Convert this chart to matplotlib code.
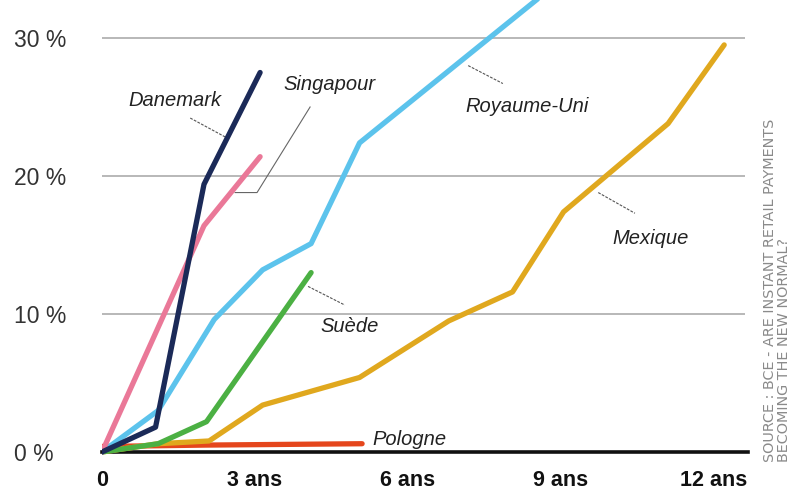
import matplotlib
matplotlib.use('Agg')
import matplotlib.pyplot as plt

# données (années, part en %)
danemark_t = [0, 1.05, 2.0, 3.1]
danemark_v = [0, 1.8, 19.4, 27.5]

singapour_t = [0, 1.0, 2.0, 3.1]
singapour_v = [0, 8.2, 16.4, 21.4]

royaume_uni_t = [0, 1.1, 2.2, 3.15, 4.1, 5.05, 9.0]
royaume_uni_v = [0, 3.0, 9.6, 13.2, 15.1, 22.4, 34.2]

suede_t = [0, 1.1, 2.05, 4.1]
suede_v = [0, 0.6, 2.2, 13.0]

mexique_t = [0, 1.1, 2.1, 3.15, 5.05, 6.8, 8.05, 9.05, 11.1, 12.2]
mexique_v = [0, 0.6, 0.8, 3.4, 5.4, 9.5, 11.6, 17.4, 23.8, 29.5]

pologne_t = [0, 2.0, 5.1]
pologne_v = [0.4, 0.5, 0.6]

x_ticks = [0, 3, 6, 9, 12]
x_labels = ['0', '3 ans', '6 ans', '9 ans', '12 ans']
y_ticks = [0, 10, 20, 30]
y_labels = ['0 %', '10 %', '20 %', '30 %']

SANS = ['Liberation Sans', 'DejaVu Sans']

fig = plt.figure(figsize=(7.95, 4.91), dpi=100)
# axe : 0 an a x=102px, 51 px par an ; 0 % a y=452px, 13.8 px par point
ax = fig.add_axes([102 / 795, (491 - 458) / 491, (745 - 102) / 795, 458 / 491])
ax.set_xlim(0, (745 - 102) / 51)
ax.set_ylim(-6 / 13.8, 452 / 13.8)

for s in ax.spines.values():
    s.set_visible(False)

for v in y_ticks[1:]:
    ax.axhline(v, color='#b8b8b8', lw=1.4, zorder=1)
ax.axhline(0, xmax=1.005, color='#111111', lw=2.6, zorder=1, clip_on=False)

lw = 3.8
ax.plot(pologne_t, pologne_v, color='#e5461c', lw=lw, solid_capstyle='round', zorder=3)
ax.plot(mexique_t, mexique_v, color='#e0a81e', lw=lw, solid_capstyle='round', zorder=3)
ax.plot(suede_t, suede_v, color='#4bb043', lw=lw, solid_capstyle='round', zorder=3)
ax.plot(royaume_uni_t, royaume_uni_v, color='#5cc3ec', lw=lw, solid_capstyle='round', zorder=3)
ax.plot(singapour_t, singapour_v, color='#ea7898', lw=lw, solid_capstyle='round', zorder=3)
ax.plot(danemark_t, danemark_v, color='#1b2a58', lw=lw, solid_capstyle='round', zorder=4)

ax.set_xticks(x_ticks)
ax.set_xticklabels(x_labels, family=SANS, fontweight='bold', fontsize=15.5, color='#111111')
ax.set_yticks(y_ticks)
ax.set_yticklabels(y_labels, family=SANS, fontsize=16.5, color='#333333', ha='left')
ax.tick_params(axis='x', length=0, pad=9)
ax.tick_params(axis='y', length=0, pad=63)

# étiquettes des séries
lab = dict(family=SANS, style='italic', fontsize=14.5, color='#222222',
           ha='center', va='center')
ax.text(1.43, 25.5, 'Danemark', **lab)
ax.text(4.47, 26.6, 'Singapour', **lab)
ax.text(8.33, 25.0, 'Royaume-Uni', **lab)
ax.text(10.75, 15.5, 'Mexique', **lab)
ax.text(4.86, 9.1, 'Suède', **lab)
ax.text(6.02, 0.9, 'Pologne', **lab)

dash = dict(color='#555555', lw=0.8, ls=(0, (2.5, 1.2)), zorder=2)
ax.plot([1.73, 2.43], [24.2, 22.8], **dash)
ax.plot([7.18, 7.86], [28.0, 26.7], **dash)
ax.plot([9.73, 10.45], [18.8, 17.3], **dash)
ax.plot([4.04, 4.76], [12.0, 10.65], **dash)
ax.plot([4.08, 3.04, 2.61], [25.0, 18.8, 18.8], color='#666666', lw=0.8, zorder=2)

fig.text(763 / 795, (491 - 462) / 491,
         'SOURCE : BCE - ARE INSTANT RETAIL PAYMENTS\nBECOMING THE NEW NORMAL?',
         rotation=90, ha='left', va='bottom', fontsize=10.4, color='#8a8a8a',
         linespacing=1.0)

fig.savefig('out.png', dpi=100)
